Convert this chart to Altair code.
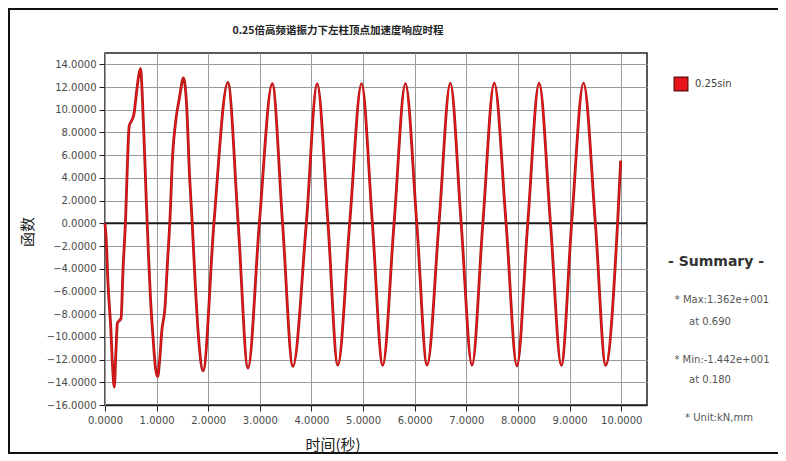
import altair as alt
import pandas as pd

# ---- data ----
times = [0.00, 0.03, 0.05, 0.08, 0.11, 0.14, 0.18, 0.21, 0.24, 0.27, 0.31, 0.35,
         0.40, 0.44, 0.47, 0.51, 0.56, 0.61, 0.66, 0.69, 0.72, 0.76, 0.80, 0.84,
         0.88, 0.93, 0.98, 1.02, 1.06, 1.10, 1.16, 1.21, 1.26, 1.31, 1.37, 1.44,
         1.52, 1.58, 1.64, 1.69, 1.75, 1.82, 1.90, 2.11, 2.38, 2.58, 2.77, 2.99,
         3.24, 3.44, 3.64, 3.90, 4.11, 4.32, 4.51, 4.74, 4.97, 5.18, 5.38, 5.60,
         5.82, 6.04, 6.24, 6.47, 6.69, 6.90, 7.11, 7.32, 7.54, 7.77, 7.98, 8.19,
         8.41, 8.63, 8.84, 9.04, 9.27, 9.50, 9.70, 9.93, 9.99]
values = [0.0, -2.0, -4.5, -7.0, -9.0, -12.0, -14.42, -11.5, -8.8, -8.6, -8.4, -4.0,
          0.5, 6.0, 8.6, 9.0, 9.6, 11.5, 13.2, 13.62, 11.5, 7.0, 2.0, -2.5,
          -6.5, -10.0, -12.8, -13.5, -12.0, -9.5, -7.5, -3.5, 0.5, 6.0, 9.0, 11.0,
          12.8, 10.5, 4.0, 0.0, -5.5, -10.5, -13.0, 0.0, 12.4, 0.0, -12.75, 0.0,
          12.3, 0.0, -12.6, 0.0, 12.3, 0.0, -12.5, 0.0, 12.3, 0.0, -12.5, 0.0,
          12.3, 0.0, -12.5, 0.0, 12.35, 0.0, -12.5, 0.0, 12.35, 0.0, -12.55, 0.0,
          12.35, 0.0, -12.5, 0.0, 12.35, 0.0, -12.5, 0.0, 5.5]

x_ticks = [0, 1, 2, 3, 4, 5, 6, 7, 8, 9, 10]
y_ticks = [-16, -14, -12, -10, -8, -6, -4, -2, 0, 2, 4, 6, 8, 10, 12, 14]

title_text = "0.25倍高频谐振力下左柱顶点加速度响应时程"
x_title = "时间(秒)"
y_title = "函数"
series_name = "0.25sin"
summary_lines = ["* Max:1.362e+001", "at  0.690", "* Min:-1.442e+001", "at  0.180", "* Unit:kN,mm"]

df = pd.DataFrame({"t": times, "v": values})

W, H = 542, 352
FONT = "DejaVu Sans"

xs = alt.Scale(domain=[0, 10.5], nice=False, zero=False)
ys = alt.Scale(domain=[-16, 15], nice=False, zero=False)

x_axis = alt.Axis(
    values=x_ticks, format=".4f", title=None, grid=True, gridColor="#9a9a9a", gridWidth=1,
    domainColor="#222", domainWidth=1.5, tickColor="#222", tickSize=6,
    labelFont=FONT, labelFontSize=10, labelColor="#4a4a4a", labelPadding=4,
    labelOverlap=False, labelFlush=False)
y_axis = alt.Axis(
    values=y_ticks, format=".4f", title=None, grid=True, gridColor="#9a9a9a", gridWidth=1,
    domainColor="#9a9a9a", tickColor="#222", tickSize=6,
    labelFont=FONT, labelFontSize=10, labelColor="#4a4a4a", labelPadding=3,
    labelOverlap=False, labelFlush=False)

x_enc = alt.X("t:Q", scale=xs, axis=x_axis)
y_enc = alt.Y("v:Q", scale=ys, axis=y_axis)

under = alt.Chart(df).mark_line(interpolate="monotone", color="#a31616", strokeWidth=2.8).encode(x=x_enc, y=y_enc)
over = alt.Chart(df).mark_line(interpolate="monotone", color="#f01818", strokeWidth=1.2).encode(x=x_enc, y=y_enc)

zero_line = alt.Chart(pd.DataFrame({"v": [0]})).mark_rule(color="#1a1a1a", strokeWidth=2).encode(y=y_enc)

one = pd.DataFrame({"k": [0]})

def label(text, x, y, size=11, weight="normal", color="#333", angle=0, align="center", font=FONT):
    return alt.Chart(one).mark_text(text=text, fontSize=size, fontWeight=weight, color=color,
                                    angle=angle, align=align, baseline="middle", font=font).encode(
        x=alt.value(x), y=alt.value(y))

def bar(x0, x1, y0, y1):
    return alt.Chart(one).mark_rect(color="#111", strokeWidth=0).encode(
        x=alt.value(x0), x2=alt.value(x1), y=alt.value(y0), y2=alt.value(y1))

layers = [zero_line, under, over]

# frame lines around the figure (top, left, bottom)
layers.append(bar(-97, 673, -45, -43))
layers.append(bar(-97, -95, -45, 401))
layers.append(bar(-97, 673, 399, 401))

# titles
layers.append(label(title_text, 233, -22, size=10.5, weight="bold", color="#222", font="Noto Sans CJK SC"))
layers.append(label(y_title, -77, 179, size=15, color="#222", angle=270, font="Noto Sans CJK SC"))
layers.append(label(x_title, 228, 392, size=15, color="#222", font="Noto Sans CJK SC"))

# legend
layers.append(alt.Chart(one).mark_point(shape="square", filled=True, size=190, color="#e8141a",
                                        stroke="#5a0a0a", strokeWidth=1.2, opacity=1).encode(
    x=alt.value(576), y=alt.value(31)))
layers.append(label(series_name, 590, 31, size=10, color="#444", align="left"))

# summary block
layers.append(label("- Summary -", 611, 209, size=14, weight="bold", color="#333"))
sum_y = [247, 269, 307, 327, 365]
sum_x = [617, 605, 617, 605, 614]
for s, sx, sy in zip(summary_lines, sum_x, sum_y):
    layers.append(label(s, sx, sy, size=10, color="#555"))

chart = alt.layer(*layers).properties(
    width=W, height=H,
    autosize=alt.AutoSizeParams(type="none"),
    padding={"left": 97, "top": 45, "right": 131, "bottom": 52},
    background="white",
).configure_view(stroke="#222", strokeWidth=1.5)

chart.save("out.html", embed_options={"renderer": "svg", "actions": False})
